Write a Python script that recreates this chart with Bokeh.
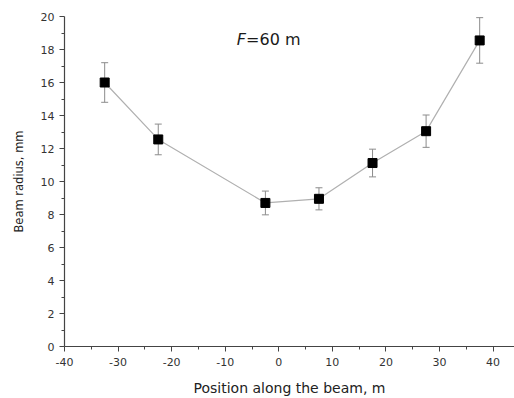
from bokeh.plotting import figure
from bokeh.models import ColumnDataSource, Whisker, TeeHead, Label, FixedTicker, Range1d
from bokeh.embed import file_html
from bokeh.resources import INLINE

positions = [-32.5, -22.5, -2.5, 7.5, 17.5, 27.5, 37.5]
radius = [16.0, 12.55, 8.7, 8.95, 11.12, 13.05, 18.55]
errors = [1.2, 0.93, 0.72, 0.67, 0.84, 0.98, 1.38]
x_ticks = [-40, -30, -20, -10, 0, 10, 20, 30, 40]
x_tick_labels = ["-40", "-30", "-20", "-10", "0", "10", "20", "30", "40"]
y_ticks = [0, 2, 4, 6, 8, 10, 12, 14, 16, 18, 20]

FONT = "DejaVu Sans"

src = ColumnDataSource(dict(
    x=positions, y=radius,
    upper=[r + e for r, e in zip(radius, errors)],
    lower=[r - e for r, e in zip(radius, errors)],
))

p = figure(width=514, height=398, output_backend="svg", toolbar_location=None,
           x_range=Range1d(-40, 44), y_range=Range1d(0, 20),
           min_border_left=64, min_border_right=0, min_border_top=16, min_border_bottom=51)
p.outline_line_color = None
p.grid.visible = False
p.background_fill_color = "white"

w = Whisker(source=src, base="x", upper="upper", lower="lower",
            line_color="#8c8c8c", line_width=1,
            upper_head=TeeHead(size=7, line_color="#8c8c8c", line_width=1),
            lower_head=TeeHead(size=7, line_color="#8c8c8c", line_width=1))
p.add_layout(w)

p.line("x", "y", source=src, line_color="#b0b0b0", line_width=1.2)
p.scatter("x", "y", source=src, marker="square", size=9, fill_color="black", line_color="black")

p.add_layout(Label(x=-7.85, y=18.62, text="F", text_font=FONT, text_font_style="italic",
                   text_font_size="16px", text_baseline="middle", text_color="#1a1a1a"))
p.add_layout(Label(x=-6.1, y=18.62, text="=60 m", text_font=FONT,
                   text_font_size="16px", text_baseline="middle", text_color="#1a1a1a"))

for ax in (p.xaxis[0], p.yaxis[0]):
    ax.axis_line_color = "#444444"
    ax.axis_line_width = 1.2
    ax.major_tick_line_color = "#444444"
    ax.minor_tick_line_color = "#444444"
    ax.major_tick_out = 5
    ax.major_tick_in = 0
    ax.minor_tick_out = 3
    ax.minor_tick_in = 0
    ax.major_label_text_font = FONT
    ax.major_label_text_font_size = "11px"
    ax.major_label_text_color = "#333333"
    ax.axis_label_text_font = FONT
    ax.axis_label_text_font_style = "normal"
    ax.axis_label_text_color = "#222222"

p.xaxis.axis_label_text_font_size = "14px"
p.yaxis.axis_label_text_font_size = "11.5px"
p.xaxis.ticker = FixedTicker(ticks=x_ticks, minor_ticks=[-35, -25, -15, -5, 5, 15, 25, 35])
p.xaxis.major_label_overrides = {t: s for t, s in zip(x_ticks, x_tick_labels)}
p.yaxis.ticker = FixedTicker(ticks=y_ticks, minor_ticks=[1, 3, 5, 7, 9, 11, 13, 15, 17, 19])
p.xaxis.axis_label = "Position along the beam, m"
p.yaxis.axis_label = "Beam radius, mm"
p.xaxis.major_label_standoff = 6
p.yaxis.major_label_standoff = 5
p.xaxis.axis_label_standoff = 11
p.yaxis.axis_label_standoff = 12

open("out.html", "w").write(file_html(p, INLINE))
